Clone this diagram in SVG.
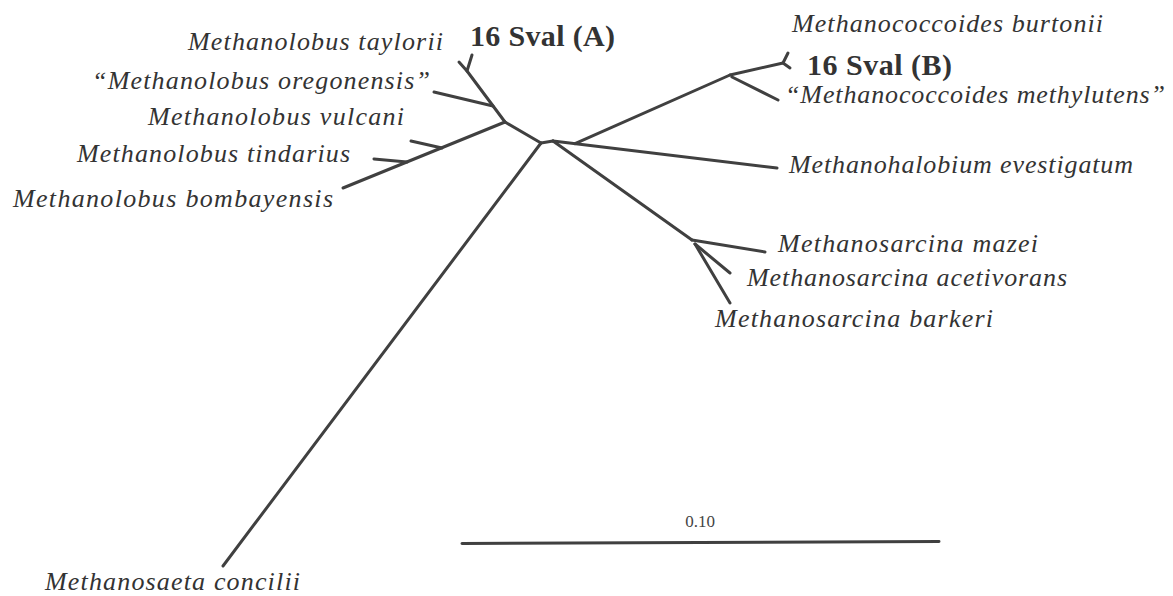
<svg xmlns="http://www.w3.org/2000/svg" width="1173" height="596" viewBox="0 0 1173 596">
<style>
.br{fill:none;stroke:#404040;stroke-width:3;stroke-linecap:round;stroke-linejoin:round}
.tx{font-style:italic;font-size:26px;fill:#333}
.bd{font-weight:bold;font-size:30px;fill:#333}
.sc{font-size:17px;fill:#444}
</style>
<rect width="1173" height="596" fill="#fff"/>
<g id="connectors">
<path class="br" d="M459,62 L467,71 L472,55"/>
<path class="br" d="M467,71 L505,122"/>
<path class="br" d="M434,92 L493,106"/>
<path class="br" d="M505,122 L541,143"/>
<path class="br" d="M505,122 L343,188"/>
<path class="br" d="M411,141 L442,148"/>
<path class="br" d="M374,159 L407,162"/>
<path class="br" d="M541,143 L553,141"/>
<path class="br" d="M541,143 L223,566"/>
<path class="br" d="M553,141 L777,168"/>
<path class="br" d="M575,143.6 L730,75"/>
<path class="br" d="M730,75 L783,63"/>
<path class="br" d="M788,53 L783,63 L790,68"/>
<path class="br" d="M732,77 L778,100"/>
<path class="br" d="M553,141 L692,240"/>
<path class="br" d="M692,240 L765,252"/>
<path class="br" d="M695,244 L730,273"/>
<path class="br" d="M695,244 L730,303"/>
<path class="br" d="M462,543.5 L939,541.5"/>
</g>
<g font-family="Liberation Serif, Times New Roman, serif">
<g id="taylorii"><text class="tx" x="188" y="50" textLength="255" lengthAdjust="spacing">Methanolobus taylorii</text></g>
<g id="svalA"><text class="bd" x="470" y="46" textLength="145" lengthAdjust="spacing">16 Sval (A)</text></g>
<g id="oregonensis"><text class="tx" x="92" y="89" textLength="338" lengthAdjust="spacing">“Methanolobus oregonensis”</text></g>
<g id="vulcani"><text class="tx" x="148" y="125" textLength="256" lengthAdjust="spacing">Methanolobus vulcani</text></g>
<g id="tindarius"><text class="tx" x="77" y="162" textLength="273" lengthAdjust="spacing">Methanolobus tindarius</text></g>
<g id="bombayensis"><text class="tx" x="13" y="207" textLength="320" lengthAdjust="spacing">Methanolobus bombayensis</text></g>
<g id="burtonii"><text class="tx" x="792" y="32" textLength="311" lengthAdjust="spacing">Methanococcoides burtonii</text></g>
<g id="svalB"><text class="bd" x="807" y="75" textLength="145" lengthAdjust="spacing">16 Sval (B)</text></g>
<g id="methylutens"><text class="tx" x="785" y="103" textLength="380" lengthAdjust="spacing">“Methanococcoides methylutens”</text></g>
<g id="evestigatum"><text class="tx" x="789" y="173" textLength="344" lengthAdjust="spacing">Methanohalobium evestigatum</text></g>
<g id="mazei"><text class="tx" x="778" y="252" textLength="260" lengthAdjust="spacing">Methanosarcina mazei</text></g>
<g id="acetivorans"><text class="tx" x="747" y="286" textLength="320" lengthAdjust="spacing">Methanosarcina acetivorans</text></g>
<g id="barkeri"><text class="tx" x="715" y="327" textLength="278" lengthAdjust="spacing">Methanosarcina barkeri</text></g>
<g id="concilii"><text class="tx" x="45" y="590" textLength="255" lengthAdjust="spacing">Methanosaeta concilii</text></g>
<g id="scale"><text class="sc" x="700" y="527" text-anchor="middle">0.10</text></g>
</g>
</svg>
